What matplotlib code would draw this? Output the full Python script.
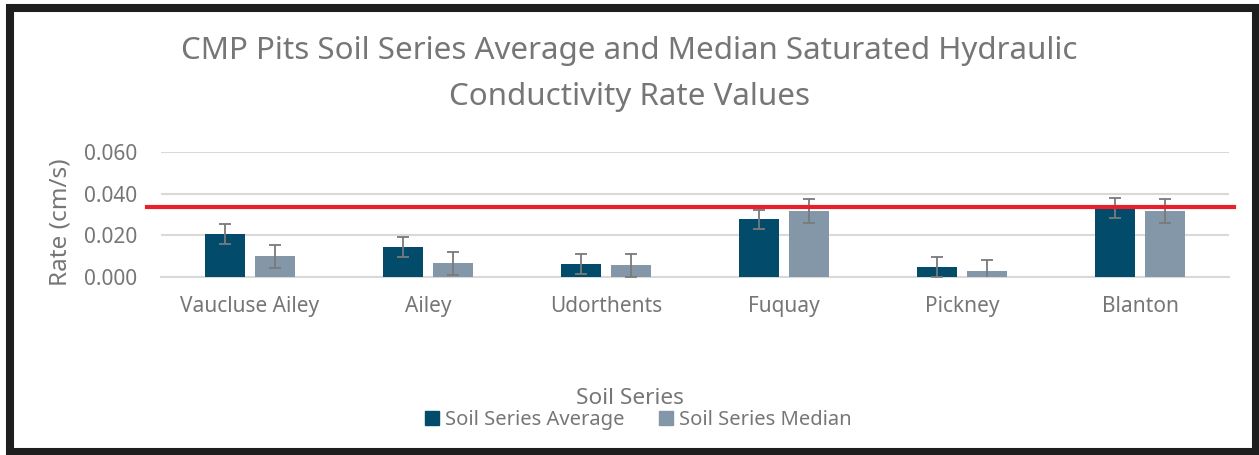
import numpy as np
import matplotlib.pyplot as plt
from matplotlib.patches import Patch, Rectangle

plt.rcParams['font.family'] = ['Noto Sans', 'DejaVu Sans']

# --- data ---
categories = ['Vaucluse Ailey', 'Ailey', 'Udorthents', 'Fuquay', 'Pickney', 'Blanton']
avg_values = [0.0208, 0.0143, 0.0064, 0.0277, 0.0048, 0.0330]
median_values = [0.0100, 0.0066, 0.0056, 0.0317, 0.0027, 0.0317]
avg_err = [0.0048, 0.0048, 0.0048, 0.0047, 0.0048, 0.0049]
median_err = [0.0056, 0.0056, 0.0056, 0.0057, 0.0057, 0.0056]
threshold = 0.0338
y_ticks = [0.000, 0.020, 0.040, 0.060]

avg_color = '#034B6A'
median_color = '#8497A8'
text_color = '#767676'
grid_color = '#D9D9D9'

fig = plt.figure(figsize=(12.59, 4.55), dpi=100)
ax = fig.add_axes([161 / 1259, 1 - 277 / 455, (1229 - 161) / 1259, (277 - 152) / 455])

x = np.arange(len(categories))
w = 0.225
off = 0.143
err_kw = dict(ecolor='#7A7A7A', elinewidth=1.3, capsize=4, capthick=1.3)
ax.bar(x - off, avg_values, w, color=avg_color, yerr=avg_err, error_kw=err_kw,
       label='Soil Series Average', zorder=3)
ax.bar(x + off, median_values, w, color=median_color, yerr=median_err, error_kw=err_kw,
       label='Soil Series Median', zorder=3)

# red reference line, runs a little past the plot area
ax.plot([-0.58, 5.53], [threshold, threshold], color='#E8202A', lw=3, clip_on=False, zorder=5)

ax.set_xlim(-0.5, len(categories) - 0.5)
ax.set_ylim(0, 0.06)
ax.set_yticks(y_ticks)
ax.set_yticklabels([f'{v:.3f}' for v in y_ticks])
ax.set_xticks(x)
ax.set_xticklabels(categories)
ax.tick_params(length=0, labelsize=15, colors=text_color)
ax.tick_params(axis='x', pad=14)
ax.tick_params(axis='y', pad=17)
ax.yaxis.grid(True, color=grid_color, lw=1.5, zorder=0)
for s in ['top', 'right', 'left']:
    ax.spines[s].set_visible(False)
ax.spines['bottom'].set_color(grid_color)
ax.spines['bottom'].set_linewidth(1.5)

fig.text(61 / 1259, 1 - 222 / 455, 'Rate (cm/s)', rotation=90, ha='center', va='center',
         fontsize=17.5, color=text_color)

fig.text(0.5, 1 - 51 / 455, 'CMP Pits Soil Series Average and Median Saturated Hydraulic',
         ha='center', va='center', fontsize=22.5, color=text_color)
fig.text(0.5, 1 - 97 / 455, 'Conductivity Rate Values',
         ha='center', va='center', fontsize=22.5, color=text_color)
fig.text(0.5, 1 - 398 / 455, 'Soil Series', ha='center', va='center', fontsize=16.3,
         color=text_color)

handles = [Patch(color=avg_color), Patch(color=median_color)]
fig.legend(handles, ['Soil Series Average', 'Soil Series Median'], ncol=2,
           loc='center', bbox_to_anchor=(638 / 1259, 1 - 420 / 455), frameon=False,
           fontsize=14.5, labelcolor=text_color, handlelength=0.7, handleheight=0.7,
           handletextpad=0.3, columnspacing=1.7, borderpad=0)

# dark frame around the chart
fig.patches.append(Rectangle((10 / 1259, 1 - 452 / 455), (1256 - 10) / 1259, (452 - 7.5) / 455,
                             transform=fig.transFigure, fill=False, edgecolor='#1E1E1E',
                             lw=5.8))

fig.savefig('out.png', dpi=100)
